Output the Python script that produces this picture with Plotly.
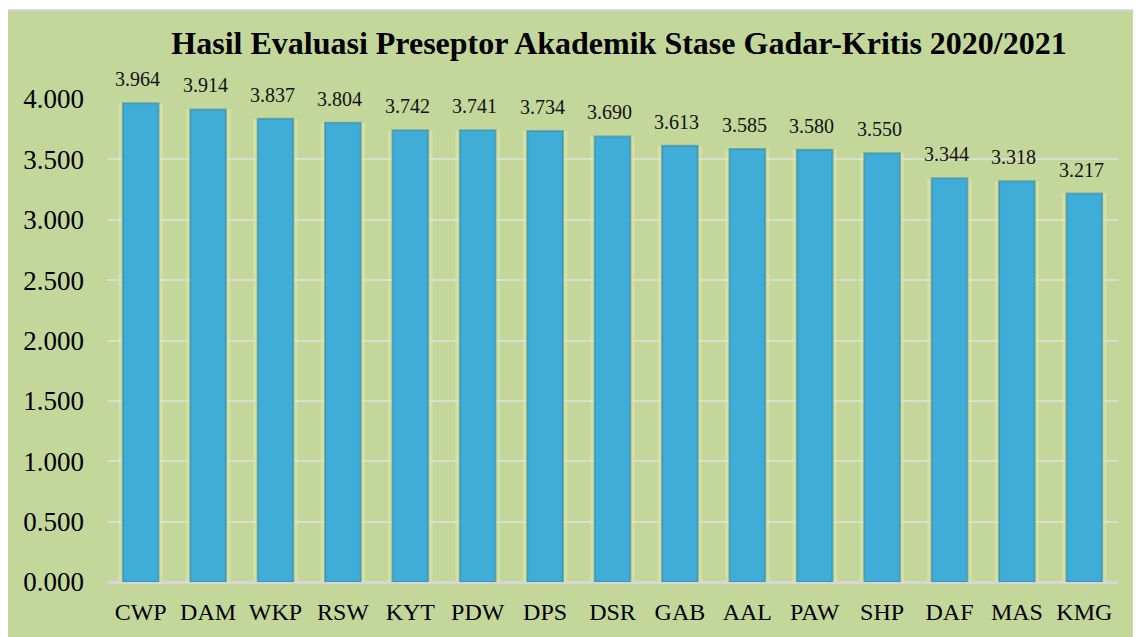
import plotly.graph_objects as go

categories = ["CWP", "DAM", "WKP", "RSW", "KYT", "PDW", "DPS", "DSR", "GAB", "AAL", "PAW", "SHP", "DAF", "MAS", "KMG"]
scores = [3.964, 3.914, 3.837, 3.804, 3.742, 3.741, 3.734, 3.690, 3.613, 3.585, 3.580, 3.550, 3.344, 3.318, 3.217]
y_ticks = [0, 0.5, 1.0, 1.5, 2.0, 2.5, 3.0, 3.5, 4.0]
title_text = "Hasil Evaluasi Preseptor Akademik Stase Gadar-Kritis 2020/2021"

# page has an 8px body margin; figure sized so it ends at the window edge
W, H = 1133, 629
ML, MR, MT, MB = 99, 23, 91, 53
pw, ph = W - ML - MR, H - MT - MB

def px_to_paper_x(px):
    return (px - ML) / pw

def py_to_paper_y(py):
    return (H - MB - py) / ph

FONT = "Liberation Serif, Times New Roman, serif"
GREEN = "#c4d79b"

fig = go.Figure()
# soft glow behind bars
fig.add_trace(go.Bar(
    x=categories, y=scores, width=0.66,
    marker=dict(color="rgba(236,232,170,0.45)", line=dict(width=0)),
    hoverinfo="skip", showlegend=False,
))
fig.add_trace(go.Bar(
    x=categories, y=scores, width=0.53,
    marker=dict(color="#3fadd8", line=dict(color="rgba(50,135,160,0.55)", width=2)),
    showlegend=False, cliponaxis=False,
))

for c, v in zip(categories, scores):
    fig.add_annotation(x=c, y=v, text=f"{v:.3f}", showarrow=False,
                       yanchor="bottom", yshift=11, xshift=-3,
                       font=dict(family=FONT, size=20, color="#111111"))

fig.add_shape(type="rect", xref="paper", yref="paper",
              x0=px_to_paper_x(-2), x1=px_to_paper_x(W + 5),
              y0=py_to_paper_y(H + 5), y1=py_to_paper_y(2),
              fillcolor=GREEN, line=dict(color="#d4d4d4", width=2), layer="below")

fig.update_layout(
    width=W, height=H,
    margin=dict(l=ML, r=MR, t=MT, b=MB),
    paper_bgcolor="white", plot_bgcolor="rgba(0,0,0,0)",
    barmode="overlay", bargap=0.47,
    title=dict(text=f"<b>{title_text}</b>", x=611 / W, xanchor="center",
               y=1 - 35 / H, yanchor="middle",
               font=dict(family=FONT, size=32, color="#000000")),
    font=dict(family=FONT, color="#000000"),
    xaxis=dict(showgrid=False, showline=False, ticks="", ticklabelstandoff=13,
               tickfont=dict(family=FONT, size=24, color="#000000")),
    yaxis=dict(range=[0, 4.0], tickvals=y_ticks, tickformat=".3f",
               showgrid=True, gridcolor="#dcdcd0", gridwidth=2,
               zeroline=True, zerolinecolor="#d6d6d6", zerolinewidth=3,
               showline=False, ticks="", ticklabelstandoff=22,
               tickfont=dict(family=FONT, size=27, color="#000000")),
)

fig.write_html("out.html")
